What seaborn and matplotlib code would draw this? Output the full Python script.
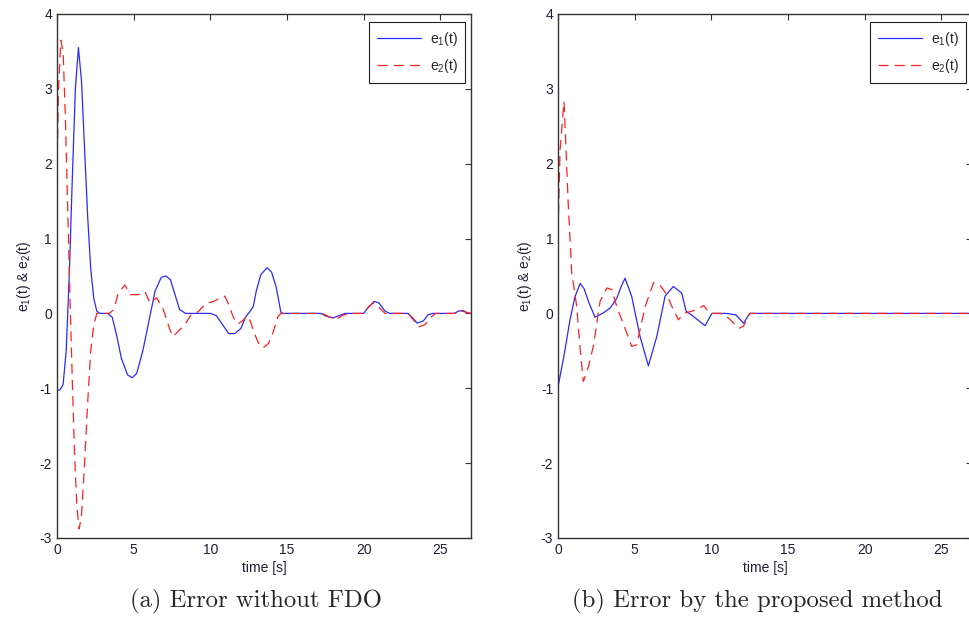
import pandas as pd
import matplotlib
matplotlib.use('Agg')
import matplotlib.pyplot as plt
import seaborn as sns

# values
# (a) Error without FDO
t_a_e1 = [0.0, 0.2, 0.4, 0.6, 0.8, 1.0, 1.2, 1.4, 1.6, 1.8, 2.0, 2.2, 2.4, 2.6, 2.8, 3.3,
          3.6, 3.9, 4.2, 4.6, 4.9, 5.2, 5.6, 6.0, 6.4, 6.8, 7.1, 7.4, 7.7, 8.0, 8.4, 10.0,
          10.4, 10.8, 11.2, 11.6, 12.0, 12.3, 12.6, 12.8, 13.0, 13.3, 13.7, 14.0, 14.3, 14.6, 14.7,
          17.2, 17.6, 18.0, 18.4, 18.8, 20.0, 20.3, 20.7, 21.0, 21.4, 21.7, 22.9, 23.2, 23.5,
          23.9, 24.2, 24.5, 25.9, 26.2, 26.5, 26.8, 27.0]
e1_a = [-1.03, -1.02, -0.95, -0.5, 0.5, 1.8, 3.0, 3.55, 3.1, 2.2, 1.3, 0.6, 0.2, 0.03, 0.0, 0.0,
        -0.05, -0.3, -0.6, -0.82, -0.86, -0.8, -0.5, -0.1, 0.3, 0.48, 0.5, 0.45, 0.25, 0.05, 0.0, 0.0,
        -0.03, -0.15, -0.27, -0.27, -0.2, -0.05, 0.03, 0.09, 0.3, 0.52, 0.61, 0.55, 0.35, 0.02, 0.0,
        0.0, -0.04, -0.06, -0.03, 0.0, 0.0, 0.08, 0.16, 0.14, 0.03, 0.0, 0.0, -0.06, -0.13,
        -0.1, -0.02, 0.0, 0.0, 0.03, 0.04, 0.0, 0.0]

t_a_e2 = [0.0, 0.1, 0.25, 0.4, 0.55, 0.7, 0.85, 1.0, 1.15, 1.3, 1.45, 1.6, 1.8, 2.0, 2.2, 2.4,
          2.6, 3.4, 3.7, 4.0, 4.43, 4.76, 5.3, 5.74, 6.07, 6.5, 6.94, 7.37, 7.57, 8.0, 8.35, 8.8,
          9.2, 9.7, 10.2, 10.6, 10.95, 11.2, 11.5, 11.8, 12.1, 12.4, 12.6, 12.9, 13.2, 13.45,
          13.8, 14.1, 14.4, 14.6, 17.3, 17.8, 18.2, 18.6, 19.0, 20.0, 20.3, 20.6, 21.0, 21.4,
          22.9, 23.3, 23.6, 24.0, 24.4, 24.7, 26.0, 26.3, 26.6, 27.0]
e2_a = [1.9, 3.0, 3.65, 3.5, 2.6, 1.4, 0.2, -0.9, -1.9, -2.6, -2.88, -2.7, -2.0, -1.2, -0.5, -0.15,
        0.0, 0.0, 0.05, 0.27, 0.38, 0.25, 0.25, 0.29, 0.14, 0.21, 0.05, -0.22, -0.31, -0.22, -0.15, 0.0,
        0.02, 0.13, 0.16, 0.2, 0.23, 0.12, -0.05, -0.14, -0.1, -0.03, -0.1, -0.28, -0.42, -0.46,
        -0.4, -0.25, -0.05, 0.0, 0.0, -0.05, -0.08, -0.03, 0.0, 0.0, 0.08, 0.14, 0.08, 0.0,
        0.0, -0.1, -0.18, -0.15, -0.05, 0.0, 0.0, 0.04, 0.02, 0.0]

# (b) Error by the proposed method
t_b_e1 = [0.0, 0.4, 0.78, 1.1, 1.44, 1.7, 2.0, 2.41, 2.9, 3.39, 3.83, 4.1, 4.37, 4.8, 5.35, 5.89,
          6.44, 6.98, 7.52, 8.07, 8.35, 8.83, 9.2, 9.59, 10.03, 11.0, 11.6, 12.1, 12.5, 27.0]
e1_b = [-0.98, -0.55, -0.085, 0.22, 0.40, 0.33, 0.15, -0.05, 0.0, 0.07, 0.2, 0.35, 0.47, 0.23, -0.31, -0.70,
        -0.31, 0.23, 0.36, 0.27, 0.03, -0.04, -0.1, -0.165, 0.0, 0.0, -0.02, -0.13, 0.0, 0.0]

t_b_e2 = [0.0, 0.13, 0.39, 0.67, 0.89, 1.22, 1.45, 1.65, 2.0, 2.3, 2.74, 3.18, 3.5, 3.83, 4.48, 4.8,
          5.13, 5.68, 6.23, 6.65, 7.09, 7.52, 7.85, 8.2, 9.07, 9.5, 9.9, 10.6, 11.1, 11.8, 12.1, 12.5, 27.0]
e2_b = [1.1, 2.18, 2.83, 1.43, 0.55, 0.09, -0.5, -0.91, -0.7, -0.44, 0.16, 0.34, 0.32, 0.09, -0.26, -0.44,
        -0.42, 0.09, 0.41, 0.38, 0.25, 0.05, -0.085, 0.0, 0.05, 0.105, 0.0, 0.0, -0.06, -0.2, -0.17, 0.0, 0.0]

captions = ['(a) Error without FDO', '(b) Error by the proposed method']

sns.set_style('white')
plt.rcParams['font.family'] = ['Liberation Sans', 'DejaVu Sans']
plt.rcParams['mathtext.default'] = 'regular'
plt.rcParams['axes.unicode_minus'] = False

fig = plt.figure(figsize=(9.69, 6.19), dpi=100)
ax_a = fig.add_axes([0.0588, 0.1309, 0.4272, 0.8465])
ax_b = fig.add_axes([0.5759, 0.1309, 0.4272, 0.8465])

panels = [(ax_a, t_a_e1, e1_a, t_a_e2, e2_a), (ax_b, t_b_e1, e1_b, t_b_e2, e2_b)]
for i, (ax, t1, y1, t2, y2) in enumerate(panels):
    df1 = pd.DataFrame({'t': t1, 'e': y1})
    df2 = pd.DataFrame({'t': t2, 'e': y2})
    sns.lineplot(data=df1, x='t', y='e', ax=ax, color='#2a2aff', linewidth=0.9,
                 label='e$_1$(t)')
    sns.lineplot(data=df2, x='t', y='e', ax=ax, color='#ff2020', linewidth=0.9,
                 dashes=False, label='e$_2$(t)').lines[-1].set_dashes((8, 5))
    ax.set_xlim(0, 27)
    ax.set_ylim(-3, 4)
    ax.set_xticks([0, 5, 10, 15, 20, 25])
    ax.set_yticks(range(-3, 5))
    ax.tick_params(direction='in', top=True, right=True, length=4, width=0.8,
                   labelsize=10, labelcolor='#202035', color='#333333')
    for s in ax.spines.values():
        s.set_color('#333333')
        s.set_linewidth(1.0)
    ax.set_xlabel('time [s]', fontsize=10, color='#202035', labelpad=3)
    ax.set_ylabel('e$_1$(t) & e$_2$(t)', fontsize=10, color='#202035', labelpad=5)
    leg = ax.legend(loc='upper right', bbox_to_anchor=(1.003, 0.998), fancybox=False,
                    framealpha=1, edgecolor='#222222', fontsize=10, handlelength=3.2,
                    borderpad=0.55, labelspacing=0.7, handletextpad=0.6)
    leg.get_frame().set_linewidth(0.8)
    fig.text(ax.get_position().x0 + ax.get_position().width / 2 - 0.008, 0.028, captions[i],
             family='cmr10', fontsize=17.8, ha='center', va='center')

fig.savefig('out.png', dpi=100)
